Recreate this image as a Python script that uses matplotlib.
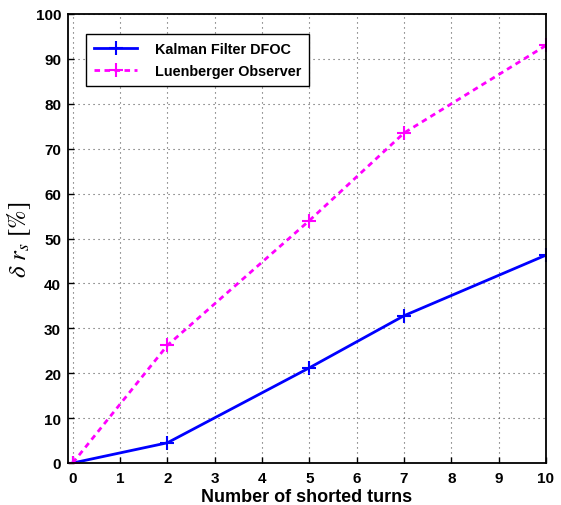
import matplotlib
matplotlib.use("Agg")
import matplotlib.pyplot as plt

x = [0, 2, 5, 7, 10]
kalman = [0, 4.5, 21.2, 32.8, 46.3]
luenberger = [0, 26.2, 54.0, 73.5, 93.0]
xticks = list(range(0, 11))
yticks = list(range(0, 101, 10))

plt.rcParams['font.family'] = ['Liberation Sans', 'DejaVu Sans']
plt.rcParams['mathtext.fontset'] = 'stix'

fig = plt.figure(figsize=(5.61, 5.06), dpi=100)
ax = fig.add_axes([68/561, 1-464/506, (546-68)/561, (464-15)/506])

ax.plot(x, kalman, color='#0000ff', lw=2, marker='+', ms=10, mew=1.5,
        label='Kalman Filter DFOC')
ax.plot(x, luenberger, color='#ff00ff', lw=2, ls=(0, (2, 1.6)), marker='+', ms=10, mew=1.5,
        label='Luenberger Observer')

ax.set_xlim(-0.1, 10)
ax.set_ylim(0, 100)
ax.set_xticks(xticks)
ax.set_yticks(yticks)
ax.tick_params(direction='in', length=4, width=1, labelsize=11)
ax.tick_params(axis='x', pad=6)
ax.tick_params(axis='y', pad=5)
for lab in ax.get_xticklabels() + ax.get_yticklabels():
    lab.set_fontweight('bold')
ax.grid(True, color='#555555', ls=(0, (1, 3.5)), lw=0.8)
for s in ax.spines.values():
    s.set_linewidth(1.3)

ax.set_xlabel('Number of shorted turns', fontsize=13, fontweight='bold', labelpad=2)
ax.set_ylabel(r'$\delta\ r_s\ \mathrm{[\%]}$', fontsize=18, labelpad=2)

leg = ax.legend(loc='upper left', bbox_to_anchor=(0.038, 0.955), borderaxespad=0,
                fancybox=False, edgecolor='black', framealpha=1, borderpad=0.55,
                handlelength=3.0, handletextpad=1.2, labelspacing=0.55,
                prop={'weight': 'bold', 'size': 10.4})
leg.get_frame().set_linewidth(1)

fig.savefig('out.png', dpi=100)
